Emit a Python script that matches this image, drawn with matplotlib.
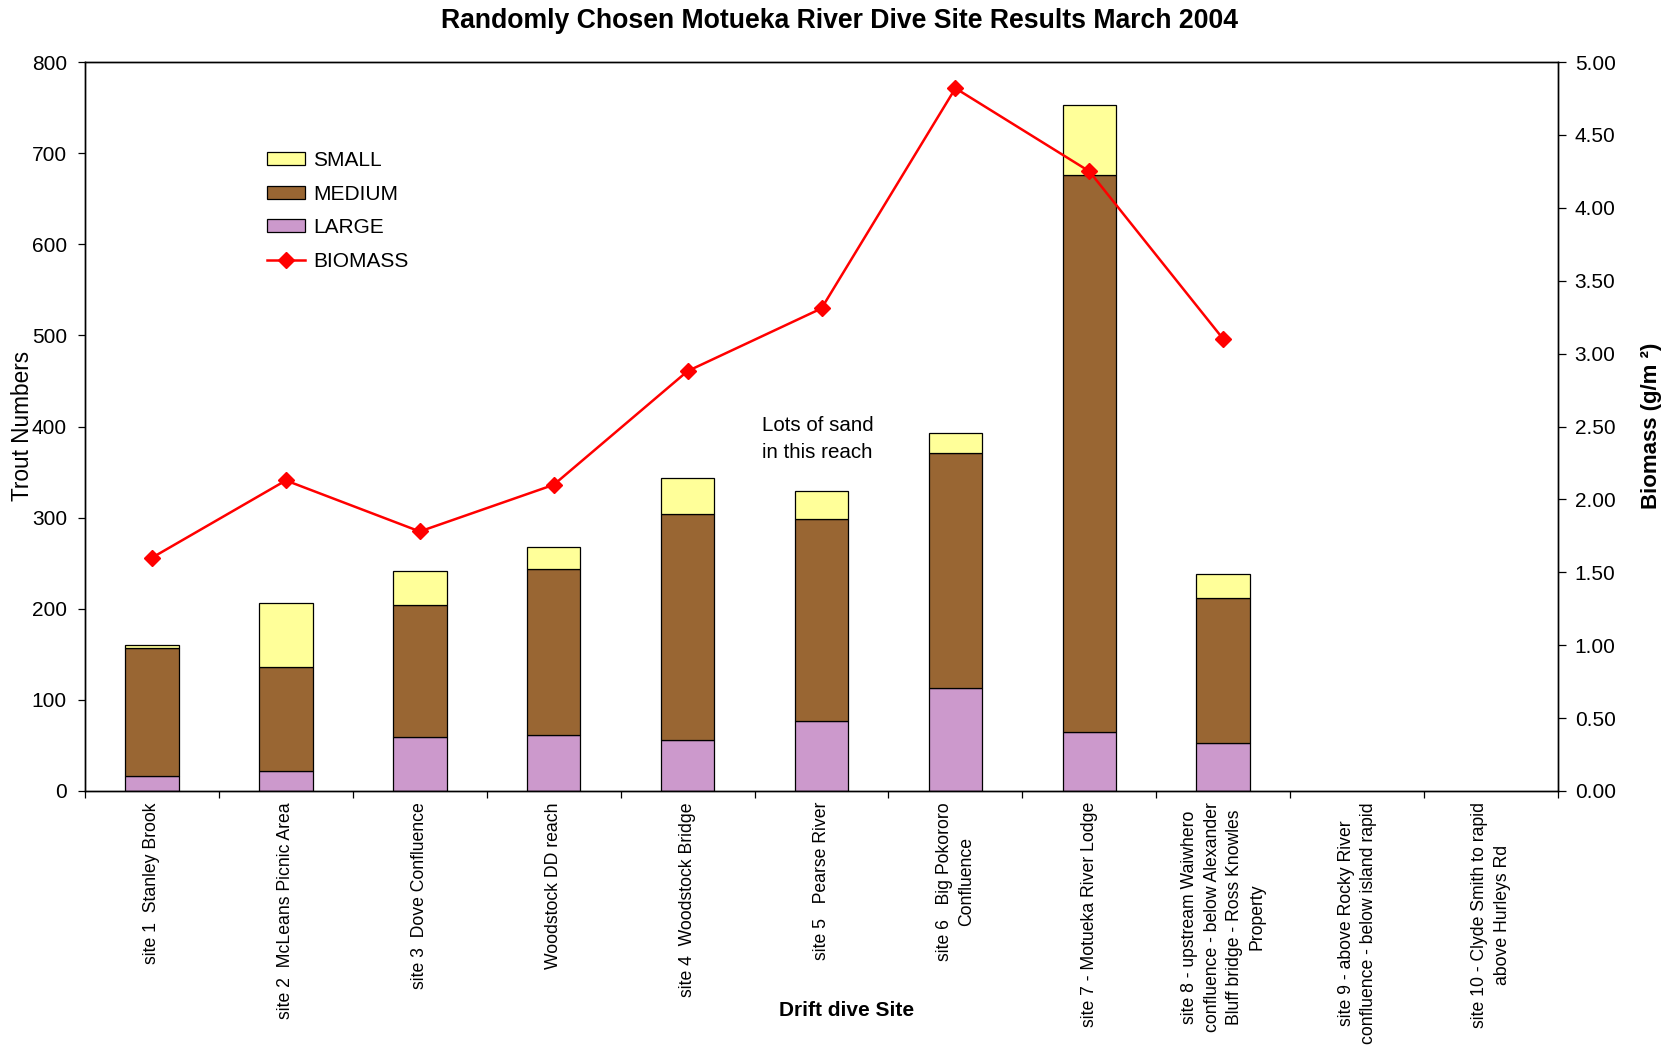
import matplotlib
matplotlib.use("Agg")
import matplotlib.pyplot as plt
import numpy as np
from matplotlib.lines import Line2D
from matplotlib.patches import Patch

# ---- data ----
sites = [
    "site 1  Stanley Brook",
    "site 2  McLeans Picnic Area",
    "site 3  Dove Confluence",
    "Woodstock DD reach",
    "site 4  Woodstock Bridge",
    "site 5   Pearse River",
    "site 6   Big Pokororo\nConfluence",
    "site 7 - Motueka River Lodge",
    "site 8 - upstream Waiwhero\nconfluence - below Alexander\nBluff bridge - Ross Knowles\nProperty",
    "site 9 - above Rocky River\nconfluence - below island rapid",
    "site 10 - Clyde Smith to rapid\nabove Hurleys Rd",
]
large = [17, 22, 59, 61, 56, 77, 113, 65, 53]
medium = [140, 114, 145, 183, 248, 221, 258, 611, 159]
small = [3, 70, 37, 24, 40, 31, 22, 77, 26]
biomass = [1.60, 2.13, 1.78, 2.10, 2.88, 3.31, 4.82, 4.25, 3.10]

left_ticks = [0, 100, 200, 300, 400, 500, 600, 700, 800]
right_ticks = [0.0, 0.5, 1.0, 1.5, 2.0, 2.5, 3.0, 3.5, 4.0, 4.5, 5.0]

# ---- style ----
C_SMALL = "#FFFF99"
C_MEDIUM = "#996633"
C_LARGE = "#CC99CC"
C_BIO = "#FF0000"
FONT = ["Liberation Sans", "DejaVu Sans"]
NARROW = ["Liberation Sans Narrow", "Liberation Sans", "DejaVu Sans"]
plt.rcParams["font.family"] = FONT

W, H = 1669, 1047
fig = plt.figure(figsize=(W / 100, H / 100), dpi=100)
fig.patch.set_facecolor("white")

L, R, T, B = 85, 1558, 62, 791
ax = fig.add_axes([L / W, 1 - B / H, (R - L) / W, (B - T) / H])

n = len(sites)
x_all = np.arange(n)
x = np.arange(len(large))
bw = 0.4
ek = dict(edgecolor="black", linewidth=0.9)

large_a = np.array(large)
medium_a = np.array(medium)
small_a = np.array(small)
ax.bar(x, large_a, bw, color=C_LARGE, **ek)
ax.bar(x, medium_a, bw, bottom=large_a, color=C_MEDIUM, **ek)
ax.bar(x, small_a, bw, bottom=large_a + medium_a, color=C_SMALL, **ek)

ax.set_xlim(-0.5, n - 0.5)
ax.set_ylim(0, 800)
ax.set_yticks(left_ticks)
ax.tick_params(axis="y", direction="out", length=5, width=0.9, pad=8,
               labelsize=15, colors="black")

ax.set_xticks(x_all)
ax.set_xticklabels(sites, rotation=90, fontsize=12.7, ha="center", va="top",
                   multialignment="center", linespacing=1.4)
ax.tick_params(axis="x", which="major", length=0, pad=8.0)
ax.set_xticks(np.arange(n + 1) - 0.5, minor=True)
ax.tick_params(axis="x", which="minor", direction="out", length=5, width=0.9)

for s in ax.spines.values():
    s.set_linewidth(1.0)
    s.set_color("black")

ax2 = ax.twinx()
ax2.set_ylim(0, 5)
ax2.set_yticks(right_ticks)
ax2.set_yticklabels([f"{v:.2f}" for v in right_ticks])
ax2.tick_params(axis="y", direction="out", length=5.5, width=0.9, pad=6.5,
                labelsize=15, colors="black")
ax2.plot(x, biomass, color=C_BIO, linewidth=1.8, marker="D", markersize=8,
         markeredgecolor=C_BIO, markerfacecolor=C_BIO)
for s in ax2.spines.values():
    s.set_linewidth(1.0)
    s.set_color("black")

# annotation
ax.text(762 / W, 1 - 416 / H, "Lots of sand\nin this reach", transform=fig.transFigure,
        fontsize=14.8, ha="left", va="top", linespacing=1.5)

# titles and axis labels
fig.text(839 / W, 1 - 21 / H, "Randomly Chosen Motueka River Dive Site Results March 2004",
         fontsize=19.2, fontweight="bold", ha="center", va="center")
fig.text(847 / W, 1 - 1011 / H, "Drift dive Site", fontsize=15, fontweight="bold",
         ha="center", va="center")
fig.text(22.5 / W, 1 - 426 / H, "Trout Numbers", fontsize=16.3, family=NARROW,
         rotation=90, ha="center", va="center")
fig.text(1651 / W, 1 - 426 / H, "Biomass (g/m \u00b2)", fontsize=16, family=NARROW,
         fontweight="bold", rotation=90, ha="center", va="center")

# legend
handles = [
    Patch(facecolor=C_SMALL, **ek),
    Patch(facecolor=C_MEDIUM, **ek),
    Patch(facecolor=C_LARGE, **ek),
    Line2D([], [], color=C_BIO, linewidth=1.8, marker="D", markersize=8),
]
labels = ["SMALL", "MEDIUM", "LARGE", "BIOMASS"]
fig.legend(handles, labels, loc="upper left",
           bbox_to_anchor=(266.7 / W, 1 - 151 / H), bbox_transform=fig.transFigure,
           frameon=False, fontsize=15, handlelength=1.82, handleheight=0.56,
           handletextpad=0.4, labelspacing=0.7, borderpad=0, borderaxespad=0)

fig.savefig("out.png", dpi=100, facecolor="white")
